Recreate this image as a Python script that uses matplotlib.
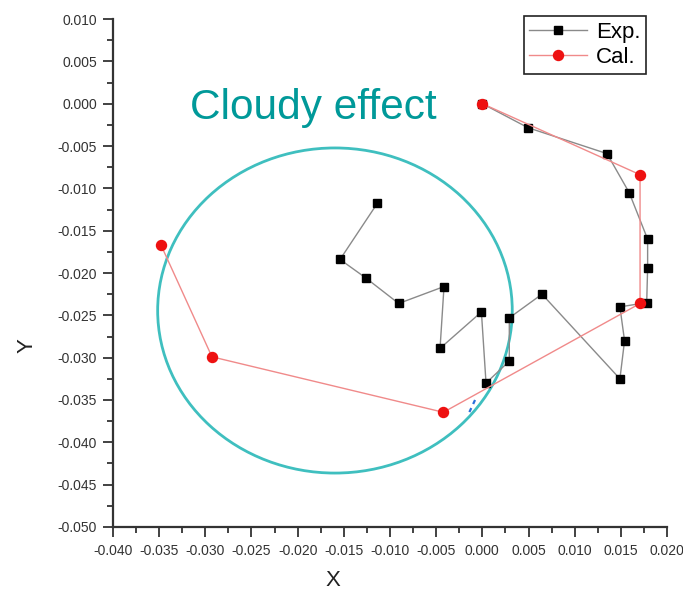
import matplotlib
matplotlib.use('Agg')
from matplotlib import pyplot as plt
from matplotlib.patches import Ellipse
from matplotlib.ticker import MultipleLocator
import numpy as np

plt.rcParams['font.family'] = ['Liberation Sans', 'DejaVu Sans']

# measured trajectory (Exp.)
exp_x = [0.0, 0.00495, 0.0135, 0.0159, 0.0179, 0.0179, 0.0178, 0.0149, 0.0154, 0.0149,
         0.00646, 0.00292, 0.00292, 0.0004, -0.0001, -0.00458, -0.00415, -0.00906,
         -0.0126, -0.01541, -0.01137]
exp_y = [0.0, -0.00284, -0.0059, -0.0105, -0.0160, -0.0194, -0.0235, -0.0240, -0.0280, -0.0325,
         -0.0225, -0.0253, -0.0304, -0.0330, -0.0246, -0.0289, -0.0216, -0.0236,
         -0.0206, -0.0184, -0.01177]

# calculated trajectory (Cal.)
cal_x = [0.0, 0.01708, 0.01708, -0.00422, -0.02928, -0.0348]
cal_y = [0.0, -0.00839, -0.0236, -0.03645, -0.0299, -0.0167]

# cloudy region
cloud_center = (-0.01596, -0.02443)
cloud_radius = 0.0192

# small blue dashes on the circle edge
blue_x = [-0.00079, -0.00155]
blue_y = [-0.0350, -0.03677]

fig = plt.figure(figsize=(6.83, 5.92), dpi=100)
ax = fig.add_axes([0.1654, 0.1098, 0.8112, 0.8581])

ax.add_patch(Ellipse(cloud_center, 2 * cloud_radius, 2 * cloud_radius,
                     fill=False, edgecolor='#3fbfbf', linewidth=2.0, zorder=1))
ax.plot(blue_x, blue_y, color='#2a6fdc', linestyle=(0, (2, 2)), linewidth=1.6, zorder=2)

ax.plot(exp_x, exp_y, color='#8a8a8a', linewidth=1.0, marker='s', markersize=6.3,
        markerfacecolor='black', markeredgecolor='black', label='Exp.', zorder=3)
ax.plot(cal_x, cal_y, color='#f08a8a', linewidth=1.0, marker='o', markersize=7.2,
        markerfacecolor='#ee1111', markeredgecolor='#ee1111', label='Cal.', zorder=4)

ax.text(-0.03166, -0.0005, 'Cloudy effect', color='#009999', fontsize=30.5,
        ha='left', va='center')

ax.set_xlim(-0.040, 0.020)
ax.set_ylim(-0.050, 0.010)
ax.xaxis.set_major_locator(MultipleLocator(0.005))
ax.xaxis.set_minor_locator(MultipleLocator(0.0025))
ax.yaxis.set_major_locator(MultipleLocator(0.005))
ax.yaxis.set_minor_locator(MultipleLocator(0.0025))
ax.xaxis.set_major_formatter(lambda v, pos: f'{v:.3f}')
ax.yaxis.set_major_formatter(lambda v, pos: f'{v:.3f}')

for side in ['top', 'right']:
    ax.spines[side].set_visible(False)
for side in ['left', 'bottom']:
    ax.spines[side].set_linewidth(1.6)
    ax.spines[side].set_color('#333333')

ax.tick_params(which='major', direction='out', length=7.5, width=1.3, color='#333333',
               labelsize=10, labelcolor='#333333')
ax.tick_params(which='minor', direction='out', length=4.3, width=1.3, color='#333333')
ax.tick_params(axis='x', which='major', pad=5)
ax.tick_params(axis='y', which='major', pad=4)

ax.set_xlabel('X', fontsize=16, color='#222222', va='center', ha='center')
ax.xaxis.set_label_coords(0.397, -0.106)
ax.set_ylabel('Y', fontsize=16, color='#222222', va='center', ha='center')
ax.yaxis.set_label_coords(-0.155, 0.358)

leg = ax.legend(loc='upper right', bbox_to_anchor=(0.962, 1.006), borderaxespad=0,
                fontsize=16, fancybox=False, framealpha=1, edgecolor='#222222',
                handlelength=2.6, handletextpad=0.4, borderpad=0.25, labelspacing=0.2)
leg.get_frame().set_linewidth(1.2)

fig.savefig('out.png', dpi=100)
